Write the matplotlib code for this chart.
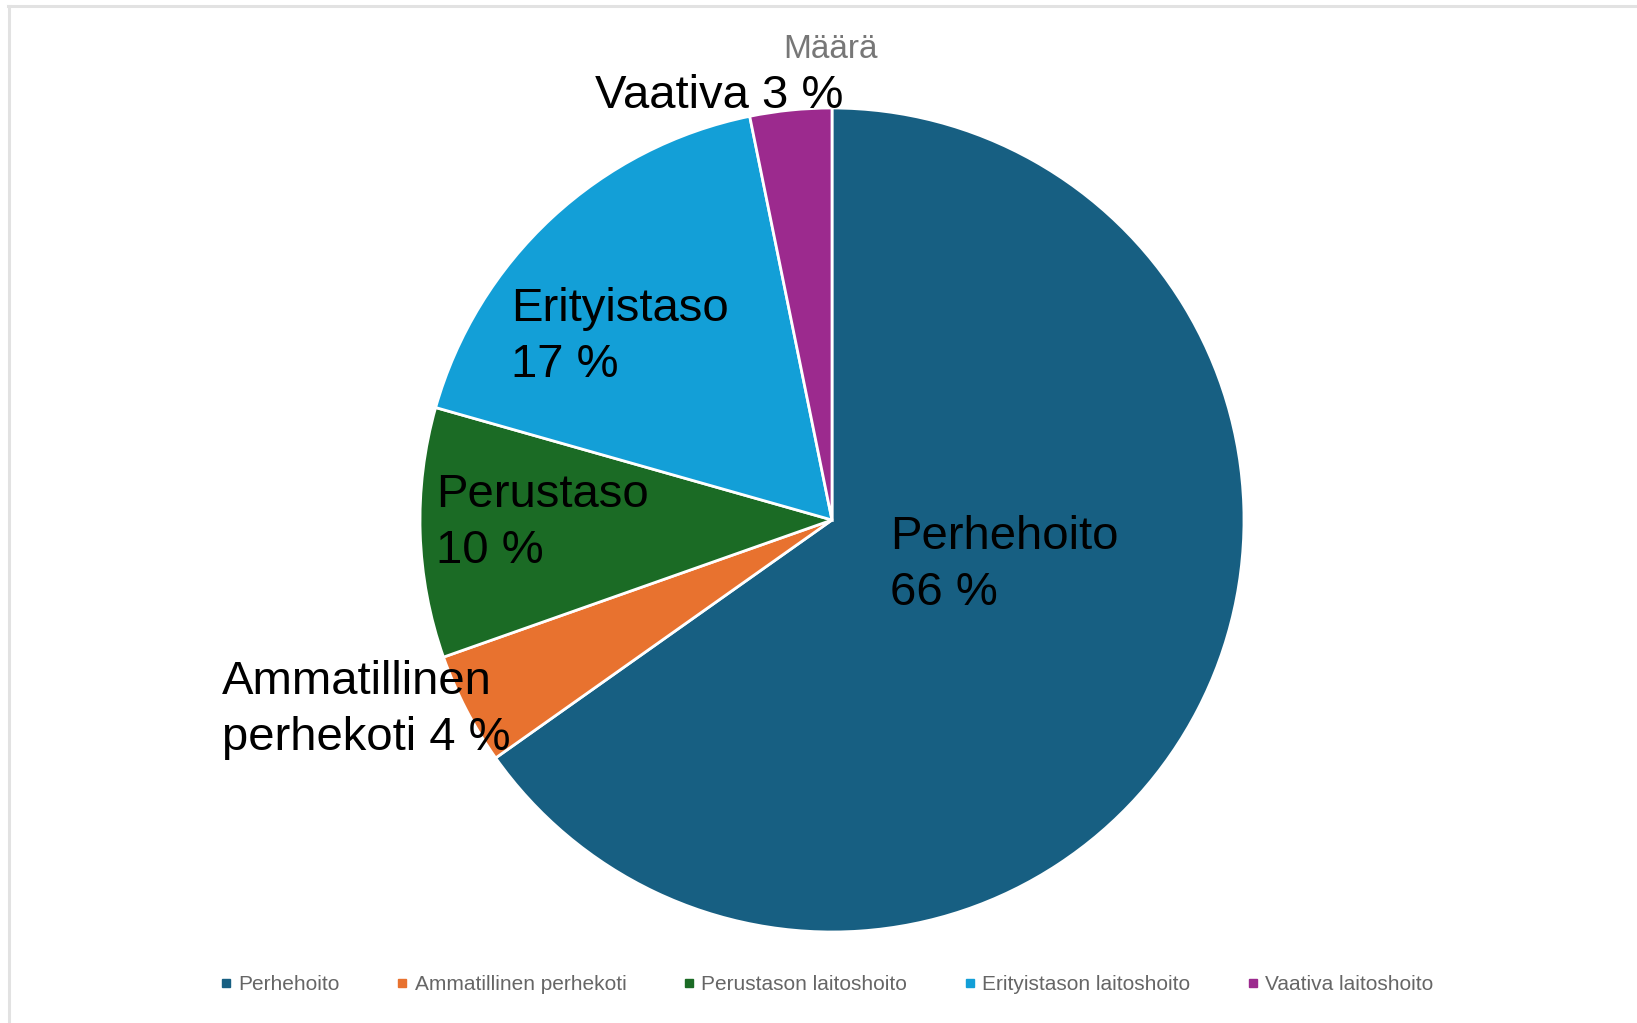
import matplotlib.pyplot as plt
from matplotlib.lines import Line2D

# shares
categories = ['Perhehoito', 'Ammatillinen perhekoti', 'Perustason laitoshoito',
              'Erityistason laitoshoito', 'Vaativa laitoshoito']
values = [65.2, 4.4, 9.8, 17.4, 3.2]
slice_labels = ['Perhehoito\n66 %', 'Ammatillinen\nperhekoti 4 %', 'Perustaso\n10 %',
                'Erityistaso\n17 %', 'Vaativa 3 %']
colors = ['#175f82', '#e8722f', '#1b6b25', '#139fd7', '#9c2a8e']

W, H = 1637, 1023
fig = plt.figure(figsize=(W / 100, H / 100), dpi=100)

cx, cy, r = 832, 520, 412
ax = fig.add_axes([(cx - r) / W, (H - cy - r) / H, 2 * r / W, 2 * r / H])
wedges, _ = ax.pie(values, colors=colors, startangle=90, counterclock=False,
                   radius=1, wedgeprops=dict(edgecolor='white', linewidth=2))
ax.set_xlim(-1, 1)
ax.set_ylim(-1, 1)
ax.set_aspect('equal')

# slice labels (pixel positions of the label blocks)
label_pos = [(890, 565), (222, 710), (436, 523), (511, 337), (595, 96)]
for txt, (x, y) in zip(slice_labels, label_pos):
    fig.text(x / W, 1 - y / H, txt, fontsize=34, family='Liberation Sans',
             ha='left', va='center', color='black', linespacing=1.37)

fig.text(830 / W, 1 - 49 / H, 'Määrä', fontsize=24, color='#777777',
         family='Liberation Sans', ha='center', va='center')

handles = [Line2D([], [], marker='s', linestyle='none', markersize=6,
                  markerfacecolor=c, markeredgecolor=c) for c in colors]
fig.legend(handles, categories, loc='center', bbox_to_anchor=(0.505, 1 - 985 / H),
           ncol=5, frameon=False, handlelength=0.6, handletextpad=0.3, columnspacing=2.7,
           prop=dict(family='Liberation Sans', size=15), labelcolor='#666666')

# light frame on top and left
fig.add_artist(Line2D([8 / W, 1], [1 - 5.5 / H, 1 - 5.5 / H], color='#e2e2e2', lw=2.2))
fig.add_artist(Line2D([9 / W, 9 / W], [0, 1 - 5.5 / H], color='#e2e2e2', lw=2.2))

fig.savefig('out.png', dpi=100, facecolor='white')
